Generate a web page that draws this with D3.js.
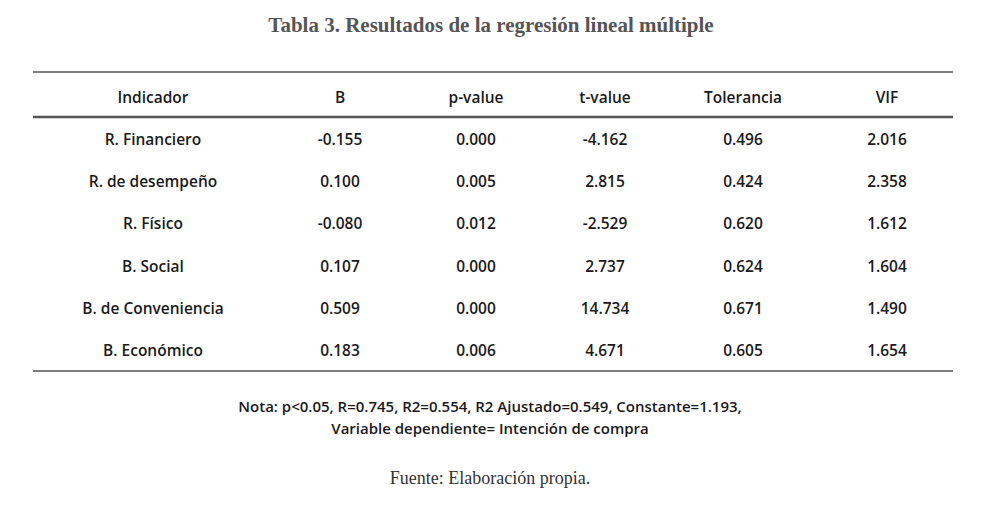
<!DOCTYPE html><html><head><meta charset="utf-8"><script src="https://cdn.jsdelivr.net/npm/d3@7"></script>
<style>body{margin:0;background:#fff}</style></head><body><svg id="c" width="987" height="505"></svg>
<script>
const headers=["Indicador","B","p-value","t-value","Tolerancia","VIF"];
const indicators=["R. Financiero","R. de desempeño","R. Físico","B. Social","B. de Conveniencia","B. Económico"];
const B=["-0.155","0.100","-0.080","0.107","0.509","0.183"];
const pValue=["0.000","0.005","0.012","0.000","0.000","0.006"];
const tValue=["-4.162","2.815","-2.529","2.737","14.734","4.671"];
const tolerancia=["0.496","0.424","0.620","0.624","0.671","0.605"];
const vif=["2.016","2.358","1.612","1.604","1.490","1.654"];
const title="Tabla 3. Resultados de la regresión lineal múltiple";
const notes=["Nota: p<0.05, R=0.745, R2=0.554, R2 Ajustado=0.549, Constante=1.193,","Variable dependiente= Intención de compra"];
const source="Fuente: Elaboración propia.";
const cols=[indicators,B,pValue,tValue,tolerancia,vif];
const svg=d3.select("#c");
const x=d3.scalePoint().domain(headers).range([153,887]);
const xc=[153,340,476,605,743,887];
const y=d3.scalePoint().domain(d3.range(6)).range([139,350]);
const sans="'Open Sans',sans-serif",serif="'Liberation Serif','DejaVu Serif',serif";
svg.append("text").attr("x",491).attr("y",32).attr("text-anchor","middle").attr("font-family",serif).attr("font-weight","bold").attr("font-size",21).attr("fill","#555").text(title);
[72,117,371].forEach(v=>svg.append("line").attr("x1",33).attr("x2",953).attr("y1",v).attr("y2",v).attr("stroke","#555").attr("stroke-width",v==117?2.5:1.5));
const g=svg.append("g").attr("font-family",sans).attr("font-weight",600).attr("font-size",15.5).attr("fill","#1a1a1a").attr("text-anchor","middle");
headers.forEach((h,i)=>g.append("text").attr("x",xc[i]).attr("y",103).text(h));
cols.forEach((c,i)=>c.forEach((v,j)=>g.append("text").attr("x",xc[i]).attr("y",y(j)+6).text(v)));
notes.forEach((n,i)=>g.append("text").attr("x",490).attr("y",412+i*22).attr("font-size",15).text(n));
svg.append("text").attr("x",490).attr("y",484).attr("text-anchor","middle").attr("font-family",serif).attr("font-size",18).attr("fill","#333").text(source);
</script></body></html>
